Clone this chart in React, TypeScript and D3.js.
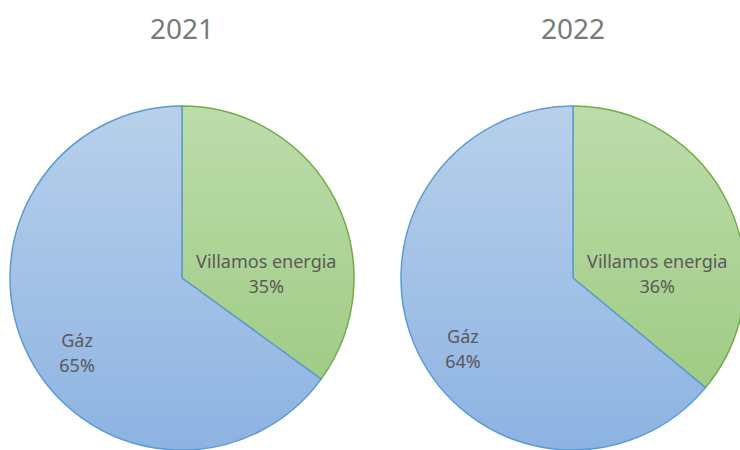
import React from "react";
import * as d3 from "d3";

const years = ["2021", "2022"];
const categories = ["Villamos energia", "Gáz"];
const values2021 = [35, 65];
const values2022 = [36, 64];
const seriesValues = [values2021, values2022];

const colors = [
  { top: "#bddcab", bottom: "#99c87c", stroke: "#70ad47" },
  { top: "#b8d0eb", bottom: "#8db3e2", stroke: "#5b9bd5" },
];

// label anchor offsets (fraction of radius) per pie per slice
const labelOffsets = [
  [
    [0.49, -0.06],
    [-0.61, 0.4],
  ],
  [
    [0.49, -0.06],
    [-0.64, 0.38],
  ],
];

const W = 740;
const H = 450;
const R = 172;
const centers = [
  [182, 278],
  [573, 278],
];

export default function App() {
  const pie = d3
    .pie<number>()
    .sort(null)
    .value((d) => d)
    .startAngle(0)
    .endAngle(2 * Math.PI);
  const arc = d3.arc<d3.PieArcDatum<number>>().innerRadius(0).outerRadius(R);

  return (
    <svg
      width={W}
      height={H}
      style={{ position: "absolute", left: 0, top: 0, background: "#fff" }}
      fontFamily="'Noto Sans', sans-serif"
    >
      <defs>
        {colors.map((c, si) => (
          <linearGradient
            key={`g${si}`}
            id={`grad_${si}`}
            gradientUnits="userSpaceOnUse"
            x1={0}
            x2={0}
            y1={-R}
            y2={R}
          >
            <stop offset="0" stopColor={c.top} />
            <stop offset="1" stopColor={c.bottom} />
          </linearGradient>
        ))}
      </defs>
      {years.map((year, pi) => {
        const [cx, cy] = centers[pi];
        const arcs = pie(seriesValues[pi]);
        const total = d3.sum(seriesValues[pi]);
        return (
          <g key={year}>
            <text
              x={cx}
              y={39}
              textAnchor="middle"
              fontSize={28}
              fill="#7a7a7a"
            >
              {year}
            </text>
            <g transform={`translate(${cx},${cy})`}>
              {arcs.map((a, si) => (
                <path
                  key={si}
                  d={arc(a) || ""}
                  fill={`url(#grad_${si})`}
                  stroke={colors[si].stroke}
                  strokeWidth={1.5}
                  strokeLinejoin="round"
                />
              ))}
              {arcs.map((a, si) => {
                const [fx, fy] = labelOffsets[pi][si];
                const x = fx * R;
                const y = fy * R;
                return (
                  <text
                    key={`l${si}`}
                    textAnchor="middle"
                    fontSize={18}
                    fill="#595959"
                  >
                    <tspan x={x} y={y}>
                      {categories[si]}
                    </tspan>
                    <tspan x={x} y={y + 25}>
                      {`${Math.round((a.data / total) * 100)}%`}
                    </tspan>
                  </text>
                );
              })}
            </g>
          </g>
        );
      })}
    </svg>
  );
}
